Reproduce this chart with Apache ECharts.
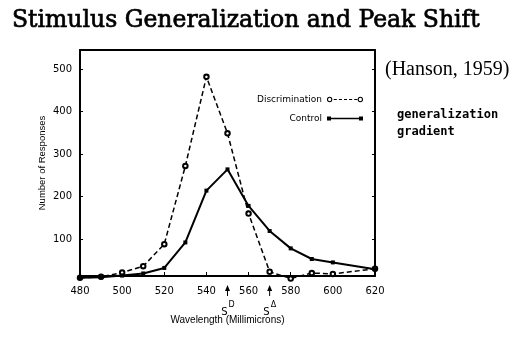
<!DOCTYPE html>
<html>
<head>
<meta charset="utf-8">
<script src="https://cdn.jsdelivr.net/npm/echarts@6/dist/echarts.min.js"></script>
<style>
html,body{margin:0;padding:0;background:#fff;}
#c{width:512px;height:342px;}
</style>
</head>
<body>
<div id="c"></div>
<script>
// ---- data ----
var wavelengths = [480, 490, 500, 510, 520, 530, 540, 550, 560, 570, 580, 590, 600, 620];
var discrimination = [9, 11, 21, 36, 88, 272, 482, 349, 160, 23, 7, 20, 18, 30];
var control = [9, 10, 14, 19, 32, 92, 214, 264, 178, 119, 78, 53, 45, 29];
var yTicks = [100, 200, 300, 400, 500];
var stimulusMarks = [550, 570];
var stimulusSup = ['D', '\u0394'];
var seriesNames = ['Discrimination', 'Control'];

function pairs(xs, ys) { return xs.map(function (x, i) { return [x, ys[i]]; }); }

var chart = echarts.init(document.getElementById('c'), null, { renderer: 'canvas' });

var iconControl = 'path://M0,1 h4 v4 h-4 z M4,2.2 h28 v1.6 h-28 z M32,1 h4 v4 h-4 z';
var iconDisc = 'path://M0.4,3 A2.6,2.6 0 1 1 5.6,3 A2.6,2.6 0 1 1 0.4,3 Z M1.4,3 A1.6,1.6 0 1 0 4.6,3 A1.6,1.6 0 1 0 1.4,3 Z ' +
  'M7,2.4 h3 v1.2 h-3 z M12,2.4 h3 v1.2 h-3 z M17,2.4 h3 v1.2 h-3 z M22,2.4 h3 v1.2 h-3 z M27,2.4 h3 v1.2 h-3 z ' +
  'M30.4,3 A2.6,2.6 0 1 1 35.6,3 A2.6,2.6 0 1 1 30.4,3 Z M31.4,3 A1.6,1.6 0 1 0 34.6,3 A1.6,1.6 0 1 0 31.4,3 Z';

var option = {
  animation: false,
  backgroundColor: '#fff',
  title: [
    { text: 'Stimulus Generalization and Peak Shift', left: 12, top: 9, padding: 0,
      textStyle: { fontFamily: 'DejaVu Serif', fontSize: 23.5, fontWeight: 'normal', color: '#000',
        textBorderColor: '#000', textBorderWidth: 0.7 } },
    { text: '(Hanson, 1959)', left: 385, top: 60, padding: 0,
      textStyle: { fontFamily: 'Liberation Serif', fontSize: 20, fontWeight: 'normal', color: '#000' } },
    { text: 'generalization\ngradient', left: 397, top: 106, padding: 0,
      textStyle: { fontFamily: 'DejaVu Sans Mono', fontSize: 12, fontWeight: 'bold', color: '#000', lineHeight: 17.5 } }
  ],
  legend: {
    orient: 'vertical', align: 'right', right: 149, top: 95, padding: 0,
    itemWidth: 36, itemHeight: 6, itemGap: 10,
    textStyle: { fontFamily: 'DejaVu Sans', fontSize: 9, color: '#000' },
    itemStyle: { borderWidth: 0, color: '#000' },
    data: [
      { name: seriesNames[0], icon: iconDisc },
      { name: seriesNames[1], icon: iconControl }
    ]
  },
  grid: { left: 80, right: 137, top: 50, bottom: 66 },
  xAxis: [
    { type: 'value', min: 480, max: 620, interval: 20, position: 'bottom',
      name: 'Wavelength (Millimicrons)', nameLocation: 'middle', nameGap: 39,
      nameTextStyle: { fontFamily: 'Liberation Sans', fontSize: 10, color: '#000' },
      axisLine: { lineStyle: { color: '#000', width: 2 } },
      axisTick: { inside: true, length: 4, lineStyle: { color: '#000', width: 1 } },
      axisLabel: { fontFamily: 'DejaVu Sans', fontSize: 10, color: '#000', margin: 10 },
      splitLine: { show: false } },
    { type: 'value', min: 480, max: 620, position: 'top',
      axisLine: { show: true, lineStyle: { color: '#000', width: 2 } },
      axisTick: { show: false }, axisLabel: { show: false }, splitLine: { show: false } }
  ],
  yAxis: [
    { type: 'value', min: 13, max: 545, position: 'left',
      name: 'Number of Responses', nameLocation: 'middle', nameGap: 33, nameMoveOverlap: false,
      nameTextStyle: { fontFamily: 'Liberation Sans', fontSize: 9.5, color: '#000' },
      axisLine: { show: true, lineStyle: { color: '#000', width: 2 } },
      axisTick: { show: true, inside: true, length: 3, customValues: yTicks, lineStyle: { color: '#000', width: 1 } },
      axisLabel: { fontFamily: 'DejaVu Sans', fontSize: 10, color: '#000', margin: 8, customValues: yTicks },
      splitLine: { show: false } },
    { type: 'value', min: 13, max: 545, position: 'right',
      axisLine: { show: true, lineStyle: { color: '#000', width: 2 } },
      axisTick: { show: true, inside: true, length: 3, customValues: yTicks, lineStyle: { color: '#000', width: 1 } },
      axisLabel: { show: false }, splitLine: { show: false } }
  ],
  series: [
    { name: seriesNames[0], type: 'line', data: pairs(wavelengths, discrimination),
      symbol: 'emptyCircle', symbolSize: 4.5, color: '#000', clip: false,
      itemStyle: { color: '#000', borderWidth: 1 },
      lineStyle: { color: '#000', width: 1.5, type: [5, 3] } },
    { name: seriesNames[1], type: 'line', data: pairs(wavelengths, control),
      symbol: 'rect', symbolSize: 4, color: '#000', clip: false,
      itemStyle: { color: '#000' },
      lineStyle: { color: '#000', width: 2 } }
  ]
};
chart.setOption(option);

// stimulus markers under the x axis (positions from the axis scale)
var axisY = chart.convertToPixel({ yAxisIndex: 0 }, 13);
var g = [];
stimulusMarks.forEach(function (wl, i) {
  var px = chart.convertToPixel({ xAxisIndex: 0 }, wl);
  g.push({ type: 'line', shape: { x1: px, y1: axisY + 13, x2: px, y2: axisY + 20 }, style: { stroke: '#000', lineWidth: 1 } });
  g.push({ type: 'polygon', shape: { points: [[px, axisY + 9], [px - 2.5, axisY + 15], [px + 2.5, axisY + 15]] }, style: { fill: '#000' } });
  g.push({ type: 'text', x: px, y: axisY + 31, style: { text: 'S', fontFamily: 'DejaVu Sans', fontSize: 10, fill: '#000', align: 'right', verticalAlign: 'top' } });
  g.push({ type: 'text', x: px + 1, y: axisY + 25, style: { text: stimulusSup[i], fontFamily: 'DejaVu Sans', fontSize: 8, fill: '#000', align: 'left', verticalAlign: 'top' } });
});
chart.setOption({ graphic: g });
</script>
</body>
</html>
